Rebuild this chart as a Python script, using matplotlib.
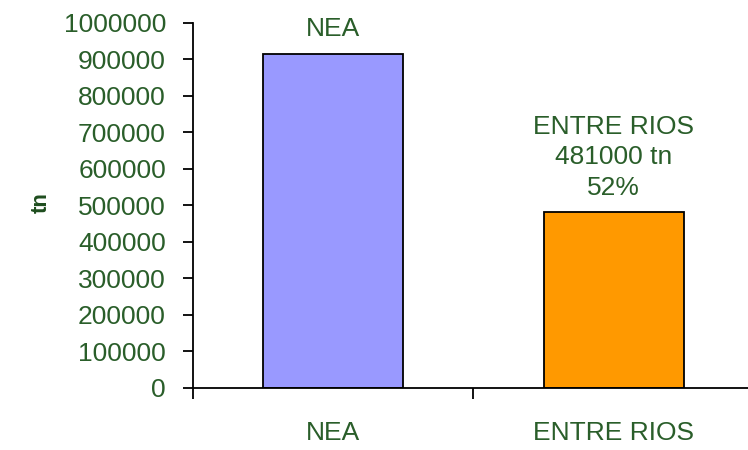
import matplotlib.pyplot as plt

plt.rcParams['font.family'] = ['Liberation Sans', 'DejaVu Sans']

categories = ['NEA', 'ENTRE RIOS']
values = [915000, 481000]
bar_labels = ['NEA', 'ENTRE RIOS\n481000 tn\n52%']
colors = ['#9999FF', '#FF9900']

green = '#2a5e2a'

fig = plt.figure(figsize=(7.48, 4.5), dpi=100)
ax = fig.add_axes([0.258, 0.138, 0.75, 0.811])

x = list(range(len(categories)))
ax.bar(x, values, width=0.5, color=colors, edgecolor='black', linewidth=1.3)

for xi, v, lab in zip(x, values, bar_labels):
    ax.annotate(lab, (xi, v), xytext=(0, 9), textcoords='offset points',
                ha='center', va='bottom', fontsize=19, color=green, linespacing=1.35)

ax.set_xlim(-0.5, 1.5)
ax.set_ylim(0, 1000000)
ax.set_yticks(range(0, 1000001, 100000))
ax.set_yticklabels([str(t) for t in range(0, 1000001, 100000)])

# ticks at category boundaries, labels at centers
ax.set_xticks([-0.5, 0.5, 1.5])
ax.set_xticklabels(['', '', ''])
ax.set_xticks(x, minor=True)
ax.set_xticklabels(categories, minor=True)
ax.tick_params(axis='x', which='minor', length=0, pad=24, labelsize=19, labelcolor=green)
ax.tick_params(axis='x', which='major', length=8, width=1.3, direction='out')
ax.tick_params(axis='y', length=7.5, width=1.3, pad=12, labelsize=19, labelcolor=green)

for side in ['top', 'right']:
    ax.spines[side].set_visible(False)
for side in ['left', 'bottom']:
    ax.spines[side].set_linewidth(1.3)

fig.text(0.055, 0.55, 'tn', rotation=90, ha='center', va='center',
         fontsize=16, fontweight='bold', color='#1e4d1e')

fig.savefig('out.png', dpi=100)
